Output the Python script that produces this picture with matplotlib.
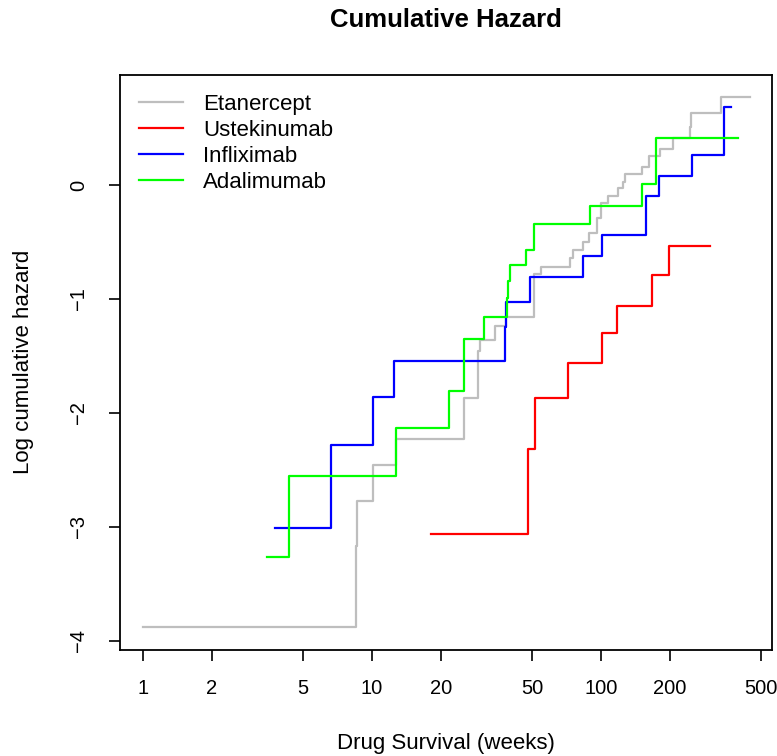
import matplotlib
matplotlib.use("Agg")
import matplotlib.pyplot as plt

# -- Data (step functions) ----------------------------------------------------

etanercept_t = [1, 8.49, 8.65, 10.1, 12.8, 25.3, 29.1, 29.6, 34.4, 38.5, 51,
                54.7, 73, 75.5, 83.3, 88.8, 95.7, 100, 107, 119, 125, 127,
                150.5, 162, 181, 206, 245, 248, 336, 448]
etanercept_h = [-3.88, -3.17, -2.77, -2.46, -2.23, -1.87, -1.46, -1.36, -1.24,
                -1.16, -0.78, -0.72, -0.64, -0.57, -0.50, -0.42, -0.29, -0.16,
                -0.10, -0.03, 0.03, 0.10, 0.16, 0.25, 0.32, 0.41, 0.51, 0.63,
                0.77, 0.77]

ustekinumab_t = [18.2, 47.9, 51.7, 72, 101.4, 118, 167, 199, 299]
ustekinumab_h = [-3.06, -2.32, -1.87, -1.56, -1.30, -1.06, -0.79, -0.535, -0.535]

infliximab_t = [3.77, 6.6, 10.1, 12.5, 38.1, 38.6, 48.8, 83.7, 101.4, 158,
                180, 251, 345, 368]
infliximab_h = [-3.01, -2.28, -1.86, -1.54, -1.25, -1.03, -0.81, -0.62, -0.44,
                -0.10, 0.08, 0.26, 0.68, 0.68]

adalimumab_t = [3.5, 4.34, 12.7, 21.8, 25.3, 30.8, 38.7, 39.4, 40.1, 46.9,
                50.8, 90, 151.5, 174, 398]
adalimumab_h = [-3.26, -2.55, -2.13, -1.81, -1.35, -1.16, -0.99, -0.84, -0.70,
                -0.57, -0.34, -0.18, 0.01, 0.415, 0.415]

x_ticks = [1, 2, 5, 10, 20, 50, 100, 200, 500]
y_ticks = [0, -1, -2, -3, -4]

plt.rcParams["font.family"] = ["Liberation Sans", "DejaVu Sans"]

fig = plt.figure(figsize=(7.77, 7.56), dpi=100)
ax = fig.add_axes([120 / 777, 1 - 650 / 756, 652 / 777, 575 / 756])

series = [
    ("Etanercept", etanercept_t, etanercept_h, "#BEBEBE"),
    ("Ustekinumab", ustekinumab_t, ustekinumab_h, "#FF0000"),
    ("Infliximab", infliximab_t, infliximab_h, "#0000FF"),
    ("Adalimumab", adalimumab_t, adalimumab_h, "#00FF00"),
]
for name, t, h, col in series:
    ax.step(t, h, where="post", color=col, lw=1.6, label=name)

ax.set_xscale("log")
ax.set_xlim(10 ** -0.1, 10 ** 2.747)
ax.set_ylim(-4.08, 0.965)

ax.set_xticks(x_ticks)
ax.set_xticklabels([str(v) for v in x_ticks])
ax.minorticks_off()
ax.set_yticks(y_ticks)
ax.set_yticklabels([str(v).replace("-", "\u2212") for v in y_ticks],
                   rotation=90, va="center")
ax.tick_params(axis="both", length=8, width=1.2, labelsize=14.5, direction="out")
ax.tick_params(axis="x", pad=13)
ax.tick_params(axis="y", pad=15)
for s in ax.spines.values():
    s.set_linewidth(1.3)

fig.text(446 / 777, 1 - 20 / 756, "Cumulative Hazard", ha="center", va="center",
         fontsize=18.5, fontweight="bold")
fig.text(446 / 777, 1 - 744 / 756, "Drug Survival (weeks)", ha="center",
         va="center", fontsize=16)
fig.text(24 / 777, 1 - 362 / 756, "Log cumulative hazard", ha="center",
         va="center", rotation=90, fontsize=16)

ax.legend(loc="upper left", frameon=False, fontsize=16, handlelength=2.0,
          handletextpad=0.9, labelspacing=0.22, borderaxespad=0.45,
          borderpad=0.4)

fig.savefig("out.png", dpi=100)
